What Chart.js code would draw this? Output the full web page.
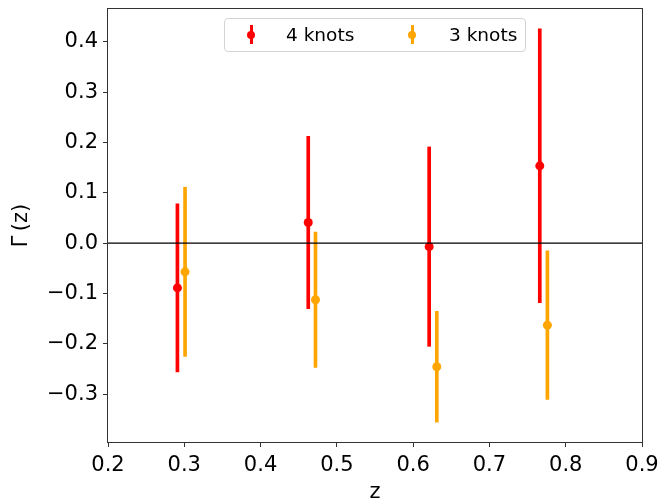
<!DOCTYPE html>
<html>
<head>
<meta charset="utf-8">
<script src="https://cdn.jsdelivr.net/npm/chart.js@4.4.1/dist/chart.umd.min.js"></script>
<style>
  html, body { margin: 0; padding: 0; background: #fff; }
  #wrap { position: relative; width: 661px; height: 501px; }
  #legend {
    position: absolute; left: 224px; top: 18px; width: 300px; height: 32px;
    border: 1px solid #d4d4d4; border-radius: 4px; background: rgba(255,255,255,0.8);
    font-family: "DejaVu Sans", sans-serif; font-size: 18.5px; color: #000;
  }
  .lg-bar { position: absolute; width: 3px; height: 19px; top: 6px; }
  .lg-dot { position: absolute; width: 8px; height: 8px; border-radius: 50%; top: 11.5px; }
  .lg-txt { position: absolute; top: 0; height: 32px; line-height: 32px; white-space: nowrap; }
</style>
</head>
<body>
<div id="wrap">
  <canvas id="c" width="661" height="501"></canvas>
  <div id="legend"></div>
</div>
<script>
// ---- data ----
const seriesNames = ['4 knots', '3 knots'];
const seriesColors = ['#ff0000', '#ffa500'];

const zRed = [0.291, 0.4625, 0.621, 0.766];
const gammaRed = [-0.089, 0.041, -0.007, 0.1535];
const errRed = [0.167, 0.171, 0.198, 0.272];

const zOrange = [0.301, 0.472, 0.631, 0.776];
const gammaOrange = [-0.057, -0.1125, -0.2455, -0.163];
const errOrange = [0.168, 0.1345, 0.110, 0.1475];

const xTicks = [0.2, 0.3, 0.4, 0.5, 0.6, 0.7, 0.8, 0.9];
const yTicks = [-0.3, -0.2, -0.1, 0.0, 0.1, 0.2, 0.3, 0.4];
const xRange = [0.2, 0.9];
const yRange = [-0.395, 0.465];

// ---- helpers ----
const fmt = v => (Math.abs(v) < 1e-9 ? 0 : v).toFixed(1).replace('-', '\u2212');
const pts = (xs, ys) => xs.map((x, i) => ({ x: x, y: ys[i] }));
const bars = (xs, ys, es) => xs.map((x, i) => ({ x: x, y: [ys[i] - es[i], ys[i] + es[i]] }));
const noPad = s => { s.paddingTop = 0; s.paddingBottom = 0; s.paddingLeft = 0; s.paddingRight = 0; };

const FONT = 'DejaVu Sans';

const framePlugin = {
  id: 'frame',
  afterDatasetsDraw(chart) {
    const { ctx, chartArea: a, scales } = chart;
    ctx.save();
    const y0 = scales.y.getPixelForValue(0);
    ctx.strokeStyle = '#000';
    ctx.lineWidth = 1.4;
    ctx.beginPath();
    ctx.moveTo(a.left, y0);
    ctx.lineTo(a.right, y0);
    ctx.stroke();
    ctx.strokeStyle = '#333';
    ctx.lineWidth = 1;
    ctx.strokeRect(Math.round(a.left) - 0.5, Math.round(a.top) - 0.5,
                   Math.round(a.right - a.left) + 1, Math.round(a.bottom - a.top) + 1);
    ctx.restore();
  }
};

const barCommon = { type: 'bar', grouped: false, barThickness: 3, borderWidth: 0 };
const ptCommon = { type: 'scatter', showLine: false, pointRadius: 4.5, pointBorderWidth: 0, pointHoverRadius: 4.5 };

new Chart(document.getElementById('c'), {
  type: 'scatter',
  data: {
    datasets: [
      Object.assign({ label: seriesNames[1], data: pts(zOrange, gammaOrange), backgroundColor: seriesColors[1], pointBackgroundColor: seriesColors[1], order: 0 }, ptCommon),
      Object.assign({ label: seriesNames[1] + ' err', data: bars(zOrange, gammaOrange, errOrange), backgroundColor: seriesColors[1], order: 1 }, barCommon),
      Object.assign({ label: seriesNames[0], data: pts(zRed, gammaRed), backgroundColor: seriesColors[0], pointBackgroundColor: seriesColors[0], order: 2 }, ptCommon),
      Object.assign({ label: seriesNames[0] + ' err', data: bars(zRed, gammaRed, errRed), backgroundColor: seriesColors[0], order: 3 }, barCommon)
    ]
  },
  options: {
    responsive: false,
    devicePixelRatio: 1,
    animation: false,
    events: [],
    layout: { padding: { left: 11.5, right: 19, top: 9, bottom: 0 } },
    plugins: { legend: { display: false }, tooltip: { enabled: false } },
    scales: {
      x: {
        type: 'linear', min: xRange[0], max: xRange[1], offset: false,
        afterBuildTicks: s => { s.ticks = xTicks.map(v => ({ value: v })); },
        afterFit: s => { s.height = 59; noPad(s); },
        grid: { display: true, drawOnChartArea: false, drawTicks: true, tickLength: 5, tickColor: '#333', tickWidth: 1, offset: false },
        border: { display: false },
        ticks: { color: '#000', font: { family: FONT, size: 21 }, padding: 6, maxRotation: 0, autoSkip: false, callback: v => fmt(v) },
        title: { display: true, text: 'z', color: '#000', font: { family: FONT, size: 21, lineHeight: 1 }, padding: { top: 0, bottom: -2 } }
      },
      y: {
        type: 'linear', min: yRange[0], max: yRange[1],
        afterBuildTicks: s => { s.ticks = yTicks.map(v => ({ value: v })); },
        afterFit: s => { s.width = 96.5; noPad(s); },
        grid: { display: true, drawOnChartArea: false, drawTicks: true, tickLength: 5, tickColor: '#333', tickWidth: 1 },
        border: { display: false },
        ticks: { color: '#000', font: { family: FONT, size: 21 }, padding: 5, autoSkip: false, callback: v => fmt(v) },
        title: { display: true, text: '\u0393\u2009(z)', color: '#000', font: { family: FONT, size: 21, lineHeight: 1 }, padding: { top: 0, bottom: 0 } }
      }
    }
  },
  plugins: [framePlugin]
});

// ---- legend (HTML overlay) ----
const lg = document.getElementById('legend');
const mkX = [26, 187];
const txX = [61, 224];
seriesNames.forEach((name, i) => {
  const b = document.createElement('div');
  b.className = 'lg-bar'; b.style.left = (mkX[i] - 1.5) + 'px'; b.style.background = seriesColors[i];
  const d = document.createElement('div');
  d.className = 'lg-dot'; d.style.left = (mkX[i] - 4) + 'px'; d.style.background = seriesColors[i];
  const t = document.createElement('div');
  t.className = 'lg-txt'; t.style.left = txX[i] + 'px'; t.textContent = name;
  lg.appendChild(b); lg.appendChild(d); lg.appendChild(t);
});
</script>
</body>
</html>
